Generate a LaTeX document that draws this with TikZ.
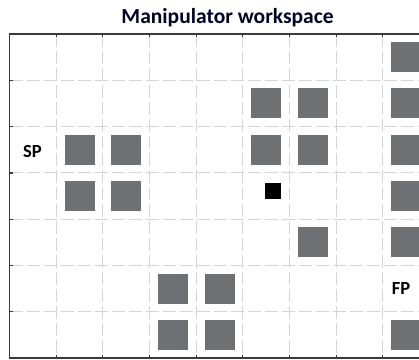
\documentclass[tikz,border=0pt]{standalone}
\usepackage{fontspec}
\setmainfont{Carlito}
\definecolor{blockgray}{HTML}{6E7173}
\definecolor{gridgray}{HTML}{D4D4D4}
\definecolor{framegray}{HTML}{3A3A3A}
\tikzset{
  gridline/.style={draw=gridgray, line width=1.1pt, dash pattern=on 13pt off 4pt},
  frameline/.style={draw=framegray, line width=1.4pt},
  tickmark/.style={draw=framegray, line width=1.2pt},
  block/.style={fill=blockgray, minimum size=30pt, inner sep=0pt, draw=none},
  target/.style={fill=black, minimum size=16pt, inner sep=0pt, draw=none},
  lbl/.style={font=\bfseries\fontsize{18.5}{20}\selectfont, inner sep=0pt, text=black},
  ttl/.style={font=\bfseries\fontsize{21.5}{23}\selectfont, inner sep=0pt, text=black!85!blue}
}
\begin{document}
\begin{tikzpicture}[x=1pt,y=-1pt]
\useasboundingbox (0,0) rectangle (419,359);
\clip (0,0) rectangle (419,359);
\fill[white] (0,0) rectangle (419,359);
\def\xo{9.5}\def\dx{46.67}\def\yo{34}\def\dy{46.3}
% grid
\foreach \c in {1,...,8} {
  \draw[gridline] ({\xo+\dx*\c},\yo) -- ({\xo+\dx*\c},{\yo+7*\dy});
  \draw[tickmark] ({\xo+\dx*\c},\yo) -- ({\xo+\dx*\c},{\yo+3});
  \draw[tickmark] ({\xo+\dx*\c},{\yo+7*\dy}) -- ({\xo+\dx*\c},{\yo+7*\dy-3});
}
\foreach \r in {1,...,6} {
  \draw[gridline] (\xo,{\yo+\dy*\r}) -- (430,{\yo+\dy*\r});
  \draw[tickmark] (\xo,{\yo+\dy*\r}) -- ({\xo+3.5},{\yo+\dy*\r});
}
% frame
\draw[frameline] (430,\yo) -- (\xo,\yo) -- (\xo,{\yo+7*\dy}) -- (430,{\yo+7*\dy});
% blocks
\foreach \c/\r [count=\i] in {8/0, 5/1, 6/1, 8/1, 1/2, 2/2, 5/2, 6/2, 8/2, 1/3, 2/3, 8/3, 6/4, 8/4, 3/5, 4/5, 3/6, 4/6, 8/6} {
  \node[block] (b\i) at ({\xo+\dx*(\c+0.5)},{\yo+\dy*(\r+0.5)}) {};
}
\node[target] (goal) at (273,190.5) {};
% labels
\node[lbl] (sp) at (32.5,151.5) {SP};
\node[lbl] (fp) at (401,288.5) {FP};
\node[ttl] (title) at (227.5,17.5) {Manipulator workspace};
\end{tikzpicture}
\end{document}
